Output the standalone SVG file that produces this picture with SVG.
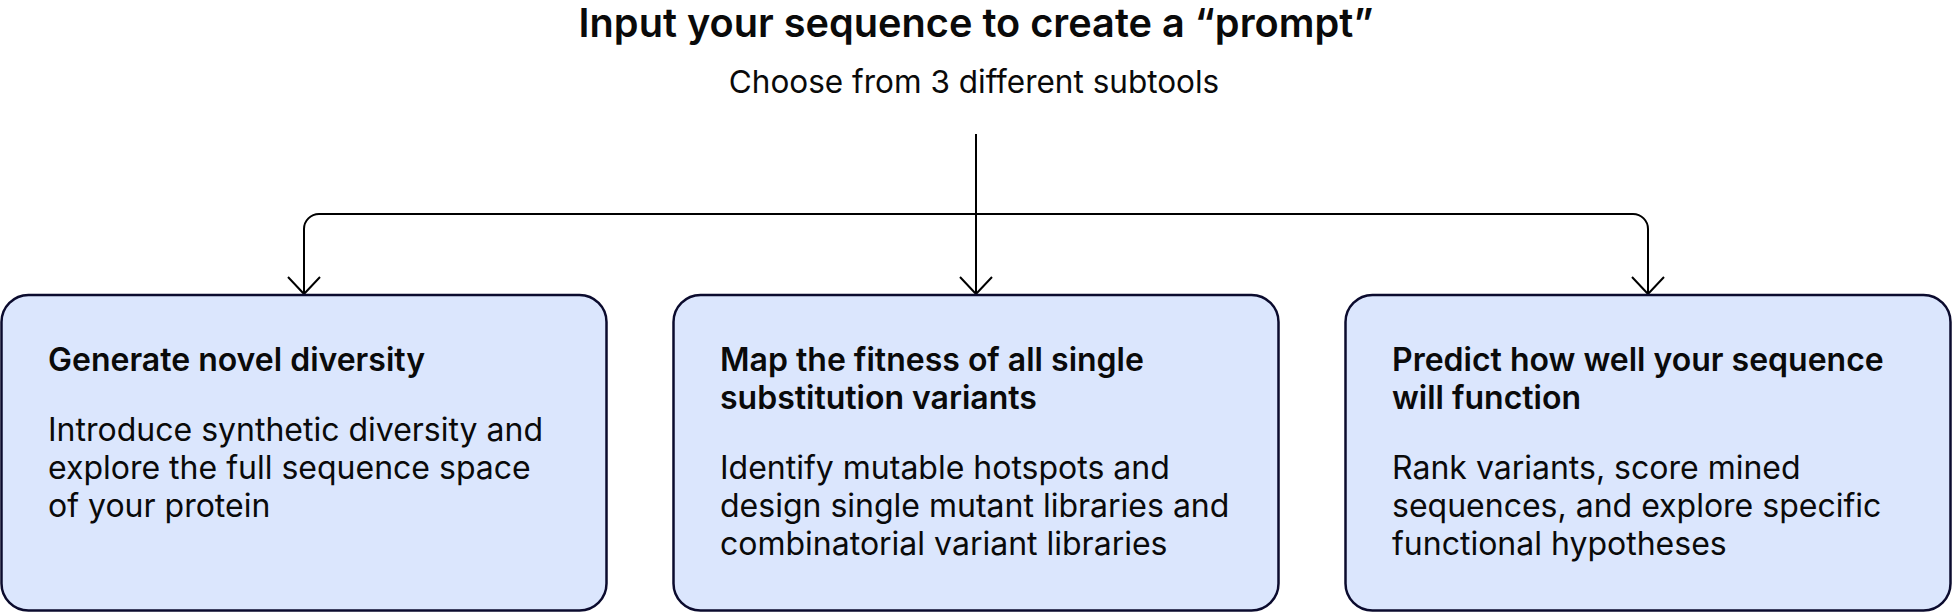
<svg xmlns="http://www.w3.org/2000/svg" width="1952" height="612" viewBox="0 0 1952 612">
<defs>
<style>
.t{font-family:Inter,"Noto Sans","Liberation Sans",sans-serif;fill:#0a0a0a}
.h{font-size:39.7px;font-weight:600}
.s{font-size:31.5px;font-weight:400}
.bt{font-size:32px;font-weight:600}
.bd{font-size:32px;font-weight:400}
.box{fill:#dbe6fd;stroke:#0b0b2e;stroke-width:2.5}
.c{fill:none;stroke:#000;stroke-width:2}
</style>
</defs>
<rect width="1952" height="612" fill="#fff"/>
<g id="header">
<text class="t h" x="976" y="37" text-anchor="middle">Input your sequence to create a “prompt”</text>
<text class="t s" x="974" y="93" text-anchor="middle">Choose from 3 different subtools</text>
</g>
<g id="connectors">
<path class="c" d="M976,134 V294"/>
<path class="c" d="M304,294 V229 A15,15 0 0 1 319,214 H1633 A15,15 0 0 1 1648,229 V294"/>
<path class="c" d="M288,277 L304,294 L320,277"/>
<path class="c" d="M960,277 L976,294 L992,277"/>
<path class="c" d="M1632,277 L1648,294 L1664,277"/>
</g>
<g id="node1">
<rect class="box" x="1.5" y="295" width="605" height="315.5" rx="27"/>
<text class="t bt" x="48" y="371">Generate novel diversity</text>
<text class="t bd" x="48" y="441">Introduce synthetic diversity and</text>
<text class="t bd" x="48" y="479">explore the full sequence space</text>
<text class="t bd" x="48" y="517">of your protein</text>
</g>
<g id="node2">
<rect class="box" x="673.5" y="295" width="605" height="315.5" rx="27"/>
<text class="t bt" x="720" y="371">Map the fitness of all single</text>
<text class="t bt" x="720" y="409">substitution variants</text>
<text class="t bd" x="720" y="479">Identify mutable hotspots and</text>
<text class="t bd" x="720" y="517">design single mutant libraries and</text>
<text class="t bd" x="720" y="555">combinatorial variant libraries</text>
</g>
<g id="node3">
<rect class="box" x="1345.5" y="295" width="605" height="315.5" rx="27"/>
<text class="t bt" x="1392" y="371">Predict how well your sequence</text>
<text class="t bt" x="1392" y="409">will function</text>
<text class="t bd" x="1392" y="479">Rank variants, score mined</text>
<text class="t bd" x="1392" y="517">sequences, and explore specific</text>
<text class="t bd" x="1392" y="555">functional hypotheses</text>
</g>
</svg>
